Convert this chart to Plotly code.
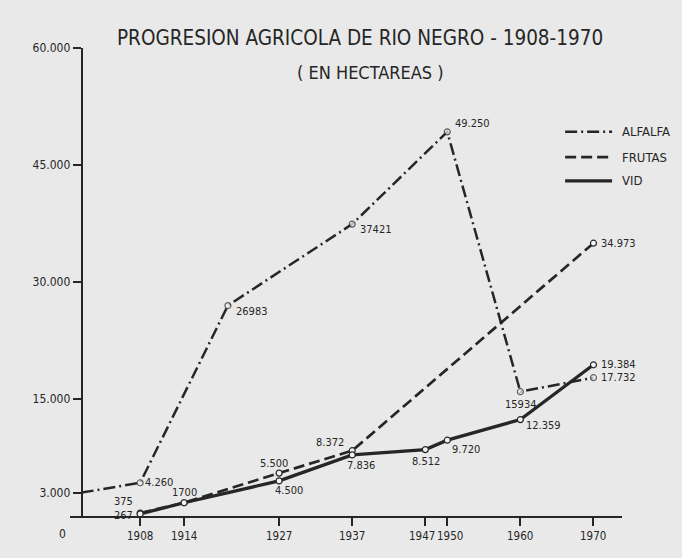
import plotly.graph_objects as go

# ---------------- data ----------------
alfalfa_years = [1900, 1908, 1920, 1937, 1950, 1960, 1970]
alfalfa_vals = [3000, 4260, 26983, 37421, 49250, 15934, 17732]
alfalfa_labels = ["", "4.260", "26983", "37421", "49.250", "15934", "17.732"]

frutas_years = [1908, 1914, 1927, 1937, 1970]
frutas_vals = [375, 1700, 5500, 8372, 34973]
frutas_labels = ["375", "1700", "5.500", "8.372", "34.973"]

vid_years = [1908, 1914, 1927, 1937, 1947, 1950, 1960, 1970]
vid_vals = [267, 1700, 4500, 7836, 8512, 9720, 12359, 19384]
vid_labels = ["267", "", "4.500", "7.836", "8.512", "9.720", "12.359", "19.384"]

x_ticks = [1908, 1914, 1927, 1937, 1947, 1950, 1960, 1970]
x_tick_text = ["1908", "1914", "1927", "1937", "1947", "1950", "1960", "1970"]
y_ticks = [3000, 15000, 30000, 45000, 60000]
y_tick_text = ["3.000", "15.000", "30.000", "45.000", "60.000"]

series_names = ["ALFALFA", "FRUTAS", "VID"]
title_text = "PROGRESION AGRICOLA DE RIO NEGRO - 1908-1970"
subtitle_text = "( EN HECTAREAS )"

# ---------------- styles ----------------
FONT = "DejaVu Sans Condensed, Liberation Sans Narrow, sans-serif"
INK = "#262626"
BG = "#e9e9e9"
DASH_ALF = "12px,4px,2px,4px"
DASH_FRU = "11px,5px"

# label offsets (xshift, yshift, xanchor) per point
alf_pos = [None, (3, 0, "left"), (6, -6, "left"), (6, -5, "left"),
           (6, 8, "left"), (0, -13, "center"), (6, 0, "left")]
fru_pos = [(-5, 12, "right"), (0, 10, "center"), (-5, 10, "center"),
           (-6, 8, "right"), (6, 0, "left")]
vid_pos = [(-5, -2, "right"), None, (10, -10, "center"), (9, -11, "center"),
           (1, -12, "center"), (3, -9, "left"), (4, -6, "left"), (6, 0, "left")]
x_label_shift = [0, 0, 0, 0, -3, 3, 0, 0]

fig = go.Figure()

def add_series(xs, ys, dash, width, msizes):
    fig.add_trace(go.Scatter(
        x=xs, y=ys, mode="lines+markers", showlegend=False,
        line=dict(color=INK, width=width, dash=dash),
        marker=dict(symbol="circle", size=msizes, color="#f4f4f4",
                    line=dict(color=INK, width=1.2)),
        hoverinfo="skip"))

add_series(frutas_years, frutas_vals, DASH_FRU, 2.7, 6)
add_series(alfalfa_years, alfalfa_vals, DASH_ALF, 2.5,
           [0] + [6] * (len(alfalfa_years) - 1))
add_series(vid_years, vid_vals, "solid", 3.3, 6)

annotations = []
for xs, ys, labs, pos in [(alfalfa_years, alfalfa_vals, alfalfa_labels, alf_pos),
                          (frutas_years, frutas_vals, frutas_labels, fru_pos),
                          (vid_years, vid_vals, vid_labels, vid_pos)]:
    for x, y, t, p in zip(xs, ys, labs, pos):
        if not t or p is None:
            continue
        annotations.append(dict(x=x, y=y, xref="x", yref="y", text=t,
                                showarrow=False, xanchor=p[2], yanchor="middle",
                                xshift=p[0], yshift=p[1],
                                font=dict(family=FONT, size=11, color=INK)))

# x tick labels (as annotations so close ticks can be nudged apart)
for xv, t, s in zip(x_ticks, x_tick_text, x_label_shift):
    annotations.append(dict(x=xv, y=0, xref="x", yref="paper", text=t,
                            showarrow=False, xanchor="center", yanchor="top",
                            xshift=s, yshift=-11,
                            font=dict(family=FONT, size=11.5, color=INK)))

# title & subtitle
annotations.append(dict(x=0.525, y=1.021, xref="paper", yref="paper",
                        text=title_text, showarrow=False, xanchor="center",
                        yanchor="middle",
                        font=dict(family=FONT, size=20.5, color=INK)))
annotations.append(dict(x=0.545, y=0.947, xref="paper", yref="paper",
                        text=subtitle_text, showarrow=False, xanchor="center",
                        yanchor="middle",
                        font=dict(family=FONT, size=18, color=INK)))
# origin label
annotations.append(dict(x=-0.013, y=-0.038, xref="paper", yref="paper",
                        text="0", showarrow=False, xanchor="center",
                        yanchor="middle",
                        font=dict(family=FONT, size=12, color=INK)))

# manual legend
shapes = []
leg_y = [0.821, 0.767, 0.716]
leg_dash = [DASH_ALF, DASH_FRU, "solid"]
leg_w = [2.5, 2.7, 3.3]
for name, yy, d, w in zip(series_names, leg_y, leg_dash, leg_w):
    shapes.append(dict(type="line", xref="paper", yref="paper",
                       x0=0.897, x1=0.982, y0=yy, y1=yy,
                       line=dict(color=INK, width=w, dash=d)))
    annotations.append(dict(x=0.996, y=yy, xref="paper", yref="paper",
                            text=name, showarrow=False, xanchor="left",
                            yanchor="middle",
                            font=dict(family=FONT, size=13, color=INK)))

x0, x1 = 1898.4, 1973.9
fig.update_layout(
    width=682, height=558,
    margin=dict(l=70, r=60, t=48, b=42, autoexpand=False),
    paper_bgcolor=BG, plot_bgcolor=BG,
    showlegend=False,
    annotations=annotations, shapes=shapes,
    xaxis=dict(range=[x0, x1], showgrid=False, zeroline=False,
               automargin=False, showticklabels=False,
               showline=True, linecolor=INK, linewidth=2,
               tickmode="array", tickvals=x_ticks,
               ticks="outside", ticklen=8, tickwidth=1.5, tickcolor=INK),
    yaxis=dict(range=[0, 60000], showgrid=False, zeroline=False,
               automargin=False,
               showline=True, linecolor=INK, linewidth=2,
               anchor="free", position=(1900 - x0) / (x1 - x0),
               tickmode="array", tickvals=y_ticks, ticktext=y_tick_text,
               ticks="outside", ticklen=8, tickwidth=1.5, tickcolor=INK,
               tickfont=dict(family=FONT, size=12, color=INK)),
)

fig.write_html(
    "out.html",
    config={"displayModeBar": False},
    post_script="document.body.style.margin='0';"
                "document.body.style.background='#e9e9e9';",
)
